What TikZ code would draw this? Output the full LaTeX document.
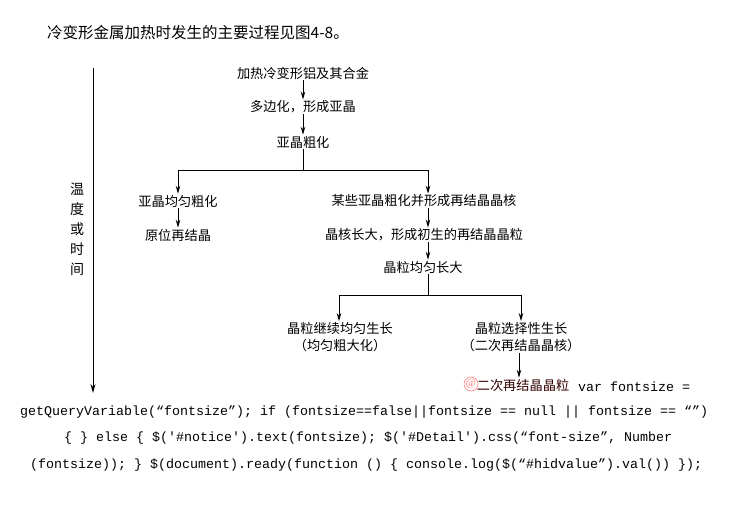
\documentclass[tikz,border=0pt]{standalone}
\usepackage{fontspec}
\setmainfont{Liberation Serif}
\newfontfamily\cjk{Noto Sans CJK SC}
\newfontfamily\codefont{Liberation Mono}
\usetikzlibrary{arrows.meta}
\begin{document}
\begin{tikzpicture}[x=1pt,y=-1pt,
  lbl/.style={font=\cjk\fontsize{13.2}{17}\selectfont, inner sep=0pt, align=center},
  code/.style={font=\codefont\fontsize{13.33}{16}\selectfont, inner sep=0pt, anchor=west},
  ln/.style={line width=0.9pt},
  arr/.style={ln, -{Stealth[length=8pt,width=4.5pt]}, shorten <=1pt, shorten >=1pt}]
\useasboundingbox[fill=white] (0,0) rectangle (730,514);
% title
\node[font=\cjk\fontsize{15.5}{18}\selectfont, inner sep=0pt, anchor=west] (title) at (47,33) {冷变形金属加热时发生的主要过程见图4-8。};
% axis
\coordinate (ax0) at (93,68);
\coordinate (ax1) at (93,393);
\draw[ln, -{Stealth[length=9pt,width=5pt]}] (ax0) -- (ax1);
\node[font=\cjk\fontsize{14}{20}\selectfont, inner sep=0pt, align=center] (axl) at (77,229) {温\\度\\或\\时\\间};
% nodes
\node[lbl] (n1) at (303,73) {加热冷变形铝及其合金};
\node[lbl] (n2) at (303,107) {多边化，形成亚晶};
\node[lbl] (n3) at (303,142) {亚晶粗化};
\node[lbl] (L1) at (178,201) {亚晶均匀粗化};
\node[lbl] (L2) at (178,235) {原位再结晶};
\node[lbl] (R1) at (424,201) {某些亚晶粗化并形成再结晶晶核};
\node[lbl] (R2) at (424,235) {晶核长大，形成初生的再结晶晶粒};
\node[lbl] (R3) at (423,267) {晶粒均匀长大};
\node[lbl] (A1) at (340,337) {晶粒继续均匀生长\\（均匀粗大化）};
\node[lbl] (B1) at (521,337) {晶粒选择性生长\\（二次再结晶晶核）};
\node[lbl, text=black!80!red] (B2) at (523,385) {二次再结晶晶粒};
\node[circle, draw=red!45, line width=0.7pt, minimum size=14pt, inner sep=0pt, text=red!55, font=\fontsize{11}{11}\selectfont] (wm) at (471,384) {@};
% junction coordinates
\coordinate (j1) at (303,170);
\coordinate (jl) at (178,170);
\coordinate (jr) at (428,170);
\coordinate (k1) at (428,295);
\coordinate (kl) at (339,295);
\coordinate (kr) at (521,295);
% connectors
\draw[arr] (n1) -- (n2);
\draw[arr] (n2) -- (n3);
\draw[ln, shorten <=1pt] (n3) -- (j1);
\draw[ln] (jl) -- (jr);
\draw[arr, shorten <=0pt] (jl) -- (L1);
\draw[arr] (L1) -- (L2);
\draw[arr, shorten <=0pt] (jr) -- (jr |- R1.north);
\draw[arr] (R1.south -| jr) -- (R2.north -| jr);
\draw[arr] (R2.south -| jr) -- (R3.north -| jr);
\draw[ln, shorten <=1pt] (R3.south -| k1) -- (k1);
\draw[ln] (kl) -- (kr);
\draw[arr, shorten <=0pt] (kl) -- (kl |- A1.north);
\draw[arr, shorten <=0pt] (kr) -- (kr |- B1.north);
\draw[arr] (B1.south -| 519,0) -- (B2.north -| 519,0);
% code text
\node[code] (c1) at (578,387) {var fontsize =};
\node[code] (c2) at (20,412) {getQueryVariable(“fontsize”); if (fontsize==false||fontsize == null || fontsize == “”)};
\node[code] (c3) at (64,438) {\{ \} else \{ \$('\#notice').text(fontsize); \$('\#Detail').css(“font-size”, Number};
\node[code] (c4) at (30,465) {(fontsize)); \} \$(document).ready(function () \{ console.log(\$(“\#hidvalue”).val()) \});};
\end{tikzpicture}
\end{document}
